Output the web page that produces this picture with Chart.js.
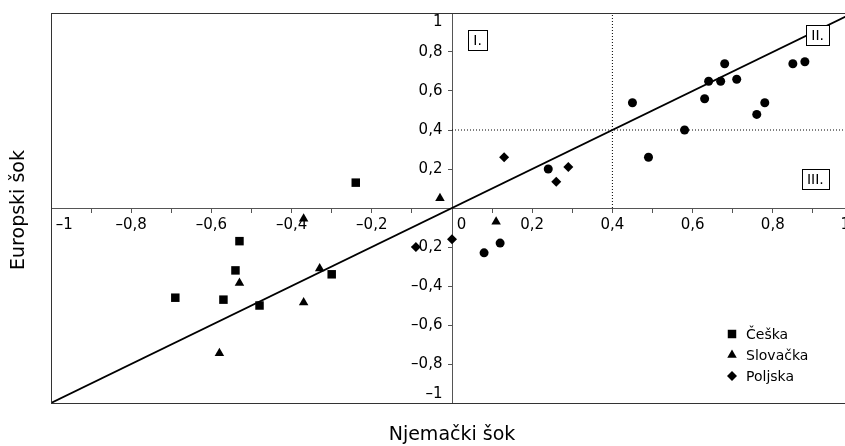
<!DOCTYPE html>
<html>
<head>
<meta charset="utf-8">
<script src="https://cdn.jsdelivr.net/npm/chart.js@4.4.1/dist/chart.umd.min.js"></script>
<style>
  html, body { margin: 0; padding: 0; background: #fff; overflow: hidden; }
  #wrap { width: 845px; height: 446px; overflow: hidden; }
</style>
</head>
<body>
<div id="wrap"><canvas id="chart" width="870" height="446"></canvas></div>
<script>
const FONT = '"DejaVu Sans", sans-serif';

// shocks: x = German shock, y = European shock
const ceskaX = [-0.24, -0.53, -0.54, -0.69, -0.57, -0.48, -0.30];
const ceskaY = [0.13, -0.17, -0.32, -0.46, -0.47, -0.50, -0.34];

const slovackaX = [-0.03, 0.11, -0.37, -0.53, -0.33, -0.37, -0.58];
const slovackaY = [0.05, -0.07, -0.055, -0.385, -0.31, -0.485, -0.745];

const poljskaX = [0.13, 0.26, 0.29, -0.09, 0.00];
const poljskaY = [0.26, 0.135, 0.21, -0.20, -0.16];

const ostaleX = [0.24, 0.45, 0.49, 0.58, 0.63, 0.64, 0.67, 0.68, 0.71, 0.76, 0.78, 0.85, 0.88, 0.08, 0.12];
const ostaleY = [0.20, 0.54, 0.26, 0.40, 0.56, 0.65, 0.65, 0.74, 0.66, 0.48, 0.54, 0.74, 0.75, -0.23, -0.18];

// reference lines
const diagX = [-1, 1];
const diagY = [-1, 1];
const vDotX = [0.4, 0.4];
const vDotY = [0, 1];
const hDotX = [0, 1];
const hDotY = [0.4, 0.4];

// quadrant markers
const quadLabels = ['I.', 'II.', 'III.'];
const quadX = [0.064, 0.912, 0.906];
const quadY = [0.862, 0.887, 0.149];

const xTitle = 'Njemački šok';
const yTitle = 'Europski šok';

function pts(xs, ys) {
  return xs.map((x, i) => ({ x: x, y: ys[i] }));
}

function decimal(r) {
  // r is value * 10, as integer
  const s = (Math.abs(r) / 10).toString().replace('.', ',');
  return (r < 0 ? '–' : '') + s;
}

function markerSet(label, xs, ys, style, radius) {
  return {
    label: label,
    data: pts(xs, ys),
    pointStyle: style,
    pointRadius: radius,
    pointHoverRadius: radius,
    pointBackgroundColor: '#000',
    pointBorderWidth: 0,
    showLine: false,
    order: 1
  };
}

function lineSet(xs, ys, width, dash) {
  return {
    label: '',
    data: pts(xs, ys),
    showLine: true,
    borderColor: '#000',
    borderWidth: width,
    borderDash: dash,
    pointRadius: 0,
    pointHoverRadius: 0,
    fill: false,
    order: 2,
    inLegend: false
  };
}

const datasets = [
  markerSet('Češka', ceskaX, ceskaY, 'rect', 6),
  markerSet('Slovačka', slovackaX, slovackaY, 'triangle', 5.5),
  markerSet('Poljska', poljskaX, poljskaY, 'rectRot', 5),
  Object.assign(markerSet('Ostale', ostaleX, ostaleY, 'circle', 4.5), { inLegend: false }),
  lineSet(diagX, diagY, 1.8, []),
  lineSet(vDotX, vDotY, 1, [1, 2]),
  lineSet(hDotX, hDotY, 1, [1, 2])
];

// box around the plot area
const frame = {
  id: 'frame',
  afterDraw(chart) {
    const { ctx, chartArea: a } = chart;
    ctx.save();
    ctx.strokeStyle = '#333';
    ctx.lineWidth = 1;
    ctx.strokeRect(a.left + 0.5, a.top + 0.5, a.right - a.left, a.bottom - a.top);
    ctx.restore();
  }
};

// boxed roman numerals in the quadrants
const quadrants = {
  id: 'quadrants',
  afterDatasetsDraw(chart) {
    const { ctx, scales } = chart;
    ctx.save();
    ctx.font = '14px ' + FONT;
    ctx.textAlign = 'center';
    ctx.textBaseline = 'middle';
    quadLabels.forEach((t, i) => {
      const cx = scales.x.getPixelForValue(quadX[i]);
      const cy = scales.y.getPixelForValue(quadY[i]);
      const w = Math.round(ctx.measureText(t).width + 10);
      const h = 20;
      const l = Math.round(cx - w / 2) + 0.5;
      const t0 = Math.round(cy - h / 2) + 0.5;
      ctx.fillStyle = '#fff';
      ctx.fillRect(l, t0, w, h);
      ctx.strokeStyle = '#000';
      ctx.lineWidth = 1;
      ctx.strokeRect(l, t0, w, h);
      ctx.fillStyle = '#000';
      ctx.fillText(t, cx, cy + 1);
    });
    ctx.restore();
  }
};

// legend in the lower right corner of the plot
const cornerLegend = {
  id: 'cornerLegend',
  afterDatasetsDraw(chart) {
    const { ctx, chartArea: a } = chart;
    const items = chart.data.datasets.filter(d => d.inLegend !== false);
    ctx.save();
    ctx.font = '14px ' + FONT;
    ctx.textAlign = 'left';
    ctx.textBaseline = 'middle';
    items.forEach((d, i) => {
      const mx = a.right - 121;
      const my = a.bottom - 69 + i * 21;
      ctx.fillStyle = '#000';
      Chart.helpers.drawPoint(ctx, {
        pointStyle: d.pointStyle, radius: d.pointRadius, rotation: 0, borderWidth: 0
      }, mx, my);
      ctx.fillText(d.label, mx + 14, my + 1);
    });
    ctx.restore();
  }
};

const axisTitles = {
  id: 'axisTitles',
  afterDraw(chart) {
    const { ctx, chartArea: a } = chart;
    ctx.save();
    ctx.fillStyle = '#000';
    ctx.font = '19px ' + FONT;
    ctx.textAlign = 'center';
    ctx.textBaseline = 'middle';
    ctx.fillText(xTitle, (a.left + a.right) / 2, a.bottom + 32);
    ctx.translate(19, (a.top + a.bottom) / 2 + 2);
    ctx.rotate(-Math.PI / 2);
    ctx.fillText(yTitle, 0, 0);
    ctx.restore();
  }
};

new Chart(document.getElementById('chart'), {
  type: 'scatter',
  data: { datasets: datasets },
  plugins: [frame, quadrants, cornerLegend, axisTitles],
  options: {
    responsive: false,
    animation: false,
    devicePixelRatio: 1,
    layout: { padding: { left: 51, top: 13, right: 17, bottom: 43 } },
    plugins: {
      legend: { display: false },
      tooltip: { enabled: false }
    },
    scales: {
      x: {
        type: 'linear',
        position: { y: 0 },
        min: -1,
        max: 1,
        afterFit(scale) {
          scale.height = 0;
          scale.paddingLeft = 0;
          scale.paddingRight = 0;
        },
        border: { color: '#555', width: 1 },
        grid: { drawOnChartArea: false, color: '#555', tickLength: 4 },
        ticks: {
          stepSize: 0.1,
          autoSkip: false,
          maxRotation: 0,
          align: 'inner',
          padding: 4,
          color: '#000',
          font: { family: FONT, size: 15 },
          callback(v) {
            const r = Math.round(v * 10);
            if (r % 2 !== 0) return '';
            if (r === 0) return '    0';
            if (r === -10) return ' ' + decimal(r);
            if (r === 10) return decimal(r) + '\u2009';
            return decimal(r);
          }
        }
      },
      y: {
        type: 'linear',
        position: { x: 0 },
        min: -1,
        max: 1,
        afterFit(scale) {
          scale.width = 0;
          scale.paddingTop = 0;
          scale.paddingBottom = 0;
        },
        border: { color: '#555', width: 1 },
        grid: { drawOnChartArea: false, color: '#555', tickLength: 4 },
        ticks: {
          stepSize: 0.2,
          autoSkip: false,
          color: '#000',
          font: { family: FONT, size: 15 },
          callback(v) {
            const r = Math.round(v * 10);
            if (r === 0) return '';
            const s = decimal(r) + '  ';
            if (r === 10) return ['', s];
            if (r === -10) return [s, ''];
            return s;
          }
        }
      }
    }
  }
});
</script>
</body>
</html>
